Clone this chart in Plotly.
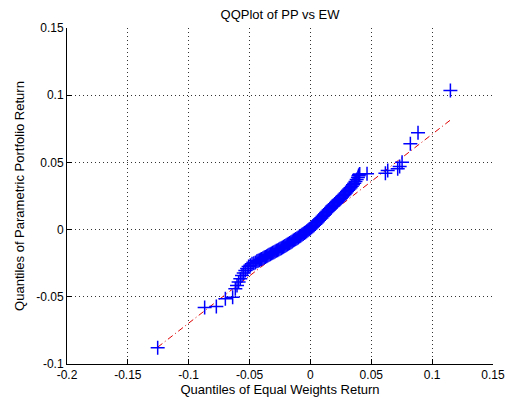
import plotly.graph_objects as go

# Sorted quantiles (x: Equal Weights, y: Parametric Portfolio)
ew_quantiles = [
    -0.1255, -0.0869, -0.0773, -0.0699, -0.0639, -0.0617, -0.0603, -0.0590,
    -0.0576, -0.0562, -0.0548, -0.0535, -0.0520, -0.0508, -0.0494, -0.0480,
    -0.0465, -0.0452,
    -0.044, -0.043, -0.042, -0.041, -0.040, -0.039, -0.038, -0.037, -0.036,
    -0.035, -0.034, -0.033, -0.032, -0.031, -0.030, -0.029, -0.028, -0.027,
    -0.026, -0.025, -0.024, -0.023, -0.022, -0.021, -0.020, -0.019, -0.018,
    -0.017, -0.016, -0.015, -0.014, -0.013, -0.012, -0.011, -0.010, -0.009,
    -0.008, -0.007, -0.006, -0.005, -0.004, -0.003, -0.002, -0.001, 0.000,
    0.001, 0.002, 0.003, 0.004, 0.005, 0.006, 0.007, 0.008, 0.009, 0.010,
    0.011, 0.012, 0.013, 0.014, 0.015, 0.016, 0.017, 0.018, 0.019, 0.020,
    0.021, 0.022, 0.023, 0.024, 0.025, 0.026, 0.027, 0.028, 0.029, 0.030,
    0.031, 0.032, 0.033, 0.034, 0.035, 0.036, 0.037, 0.038, 0.039, 0.0395,
    0.0400, 0.0405,
    0.0465, 0.0616, 0.0635, 0.0717, 0.0733, 0.0753, 0.0821, 0.0884, 0.1150,
]
pp_quantiles = [
    -0.0880, -0.0580, -0.0572, -0.0515, -0.0503, -0.0440, -0.0416, -0.0390,
    -0.0366, -0.0342, -0.0322, -0.0304, -0.0290, -0.0275, -0.0265, -0.0255,
    -0.0250, -0.0244,
    -0.0236, -0.0232, -0.0228, -0.0223, -0.0218, -0.0213, -0.0208, -0.0203,
    -0.0198, -0.0193, -0.0188, -0.0183, -0.0178, -0.0173, -0.0168, -0.0163,
    -0.0158, -0.0153, -0.0148, -0.0143, -0.0138, -0.0133, -0.0127, -0.0122,
    -0.0117, -0.0111, -0.0106, -0.0100, -0.0094, -0.0088, -0.0082, -0.0076,
    -0.0070, -0.0064, -0.0058, -0.0052, -0.0045, -0.0039, -0.0032, -0.0026,
    -0.0019, -0.0012, -0.0005, 0.0002, 0.0009,
    0.0017, 0.0025, 0.0033, 0.0042, 0.0051, 0.0060, 0.0069, 0.0078, 0.0087,
    0.0097, 0.0107, 0.0117, 0.0127, 0.0137, 0.0146, 0.0155, 0.0164, 0.0173,
    0.0182, 0.0190, 0.0199, 0.0207, 0.0216, 0.0224, 0.0233, 0.0243, 0.0252,
    0.0262, 0.0272, 0.0283, 0.0292, 0.0302, 0.0312, 0.0322, 0.0333, 0.0345,
    0.0358, 0.0372, 0.0388, 0.0400, 0.0408, 0.0413,
    0.0416, 0.0420, 0.0440, 0.0452, 0.0469, 0.0501, 0.0638, 0.0720, 0.1035,
]

# Reference line endpoints
ref_line_x = [-0.1255, 0.1150]
ref_line_y = [-0.0875, 0.0815]

x_ticks = [-0.2, -0.15, -0.1, -0.05, 0, 0.05, 0.1, 0.15]
x_tick_text = ["-0.2", "-0.15", "-0.1", "-0.05", "0", "0.05", "0.1", "0.15"]
y_ticks = [-0.1, -0.05, 0, 0.05, 0.1, 0.15]
y_tick_text = ["-0.1", "-0.05", "0", "0.05", "0.1", "0.15"]

FONT = "Liberation Sans, Arial, sans-serif"

fig = go.Figure()
fig.add_trace(go.Scatter(
    x=ref_line_x, y=ref_line_y, mode="lines",
    line=dict(color="#e00000", width=1, dash="6px,3px,1px,3px"),
    showlegend=False, hoverinfo="skip",
))
fig.add_trace(go.Scatter(
    x=ew_quantiles, y=pp_quantiles, mode="markers",
    marker=dict(symbol="cross-thin", size=10, color="#0000ff",
                line=dict(color="#0000ff", width=1.5)),
    showlegend=False,
))

axis_common = dict(
    showline=True, linecolor="black", linewidth=1,
    ticks="inside", ticklen=5, tickcolor="black", tickwidth=1,
    showgrid=True, gridcolor="#333333", gridwidth=1, griddash="1px,3px",
    zeroline=False, mirror=False, automargin=False,
    tickfont=dict(family=FONT, size=12, color="black"),
)

fig.update_layout(
    width=507, height=404,
    margin=dict(l=67, r=14, t=28, b=40),
    paper_bgcolor="white", plot_bgcolor="white",
    title=dict(text="QQPlot of PP vs EW", x=0.5, xref="paper",
               y=1 - 14 / 404, yref="container", yanchor="middle",
               font=dict(family=FONT, size=13, color="black")),
    xaxis=dict(range=[-0.2, 0.15], tickvals=x_ticks, ticktext=x_tick_text,
               title=dict(text="Quantiles of Equal Weights Return",
                          font=dict(family=FONT, size=13, color="black"),
                          standoff=2),
               **axis_common),
    yaxis=dict(range=[-0.1, 0.15], tickvals=y_ticks, ticktext=y_tick_text,
               title=dict(text="Quantiles of Parametric Portfolio Return",
                          font=dict(family=FONT, size=13, color="black"),
                          standoff=8),
               **axis_common),
)

fig.write_html("out.html")
